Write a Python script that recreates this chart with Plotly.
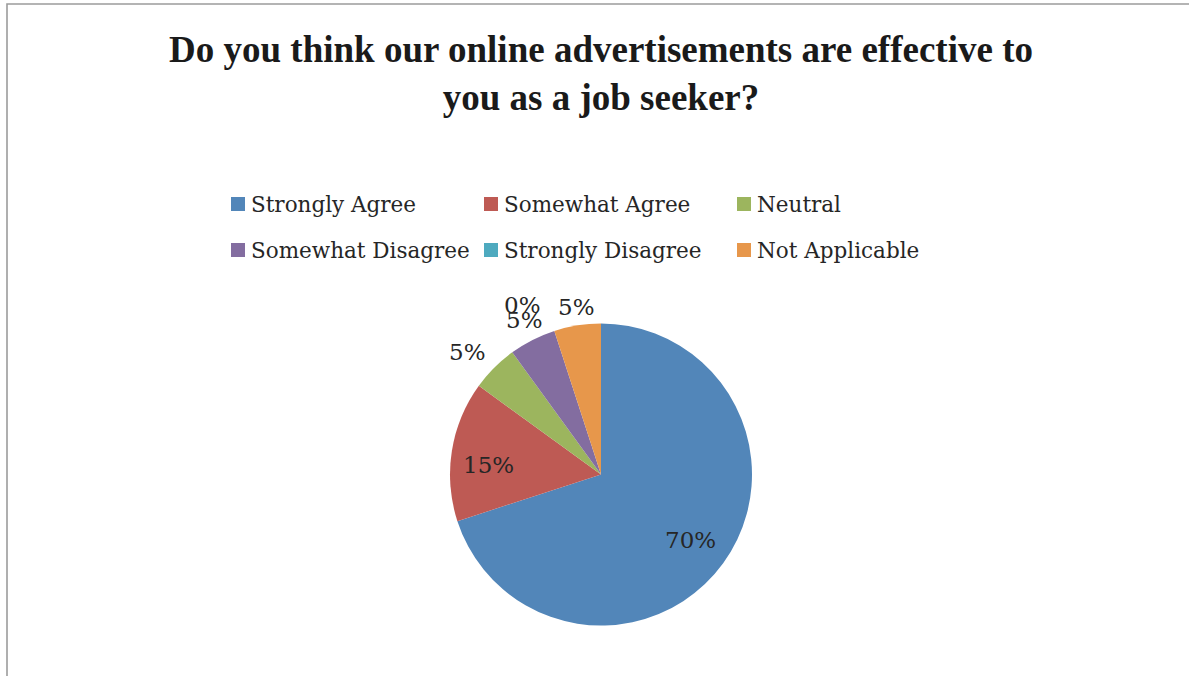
import math
import plotly.graph_objects as go

# Survey responses
categories = ["Strongly Agree", "Somewhat Agree", "Neutral",
              "Somewhat Disagree", "Strongly Disagree", "Not Applicable"]
shares = [70, 15, 5, 5, 0, 5]
colors = ["#5286B9", "#BE5A54", "#9CB55E", "#836DA0", "#4EAABF", "#E7974B"]
title_text = "Do you think our online advertisements are effective to<br>you as a job seeker?"

# Layout geometry (pixels)
W, H = 1189, 676
CX, CY, R = 601, 474.5, 151
# per-slice label placement: (radius as fraction of R, angular nudge in degrees)
label_place = [(0.735, 0), (0.75, -4), (1.2, -2.4), (1.14, 0.8), (1.235, -7), (1.12, 0.5)]
legend_cols = [231, 484, 737]
legend_rows = [204, 250]
legend_box = 14
legend_text_gap = 4
legend_ncols = 3

SERIF = "DejaVu Serif"


def px(x):
    return x / W


def py(y):
    return 1 - y / H


fig = go.Figure(go.Pie(
    labels=categories,
    values=shares,
    sort=False,
    direction="clockwise",
    rotation=0,
    marker=dict(colors=colors, line=dict(width=0)),
    textinfo="none",
    hoverinfo="label+percent",
    showlegend=False,
    domain=dict(x=[px(CX - R), px(CX + R)], y=[py(CY + R), py(CY - R)]),
))

annotations = []
shapes = []

# Percentage labels, placed at each slice's mid angle
total = sum(shares)
cum = 0.0
for v, (rf, nudge) in zip(shares, label_place):
    mid = (cum + v / 2) / total * 360 + nudge
    cum += v
    rad = math.radians(mid)
    x = CX + rf * R * math.sin(rad)
    y = CY - rf * R * math.cos(rad)
    annotations.append(dict(
        x=px(x), y=py(y), xref="paper", yref="paper",
        text=f"{round(100 * v / total)}%", showarrow=False,
        xanchor="center", yanchor="middle",
        font=dict(family=SERIF, size=23, color="#262626"),
    ))

# Legend: colour swatches with category names, three per row
for i, (name, col) in enumerate(zip(categories, colors)):
    x0 = legend_cols[i % legend_ncols]
    yc = legend_rows[i // legend_ncols]
    shapes.append(dict(
        type="rect", xref="paper", yref="paper",
        x0=px(x0), x1=px(x0 + legend_box),
        y0=py(yc + legend_box / 2), y1=py(yc - legend_box / 2),
        fillcolor=col, line=dict(width=0),
    ))
    annotations.append(dict(
        x=px(x0 + legend_box + legend_text_gap), y=py(yc), xref="paper", yref="paper",
        text=name, showarrow=False, xanchor="left", yanchor="middle",
        font=dict(family=SERIF, size=21.5, color="#262626"),
    ))

# Chart-area border (left and top edges)
shapes.append(dict(
    type="path", xref="paper", yref="paper",
    path=f"M {px(7)},{py(H + 5)} L {px(7)},{py(4)} L {px(W + 5)},{py(4)}",
    line=dict(color="#9C9C9C", width=1.6),
))

fig.update_layout(
    width=W, height=H,
    margin=dict(l=0, r=0, t=0, b=0),
    paper_bgcolor="white",
    plot_bgcolor="white",
    title=dict(
        text=f"<b>{title_text}</b>",
        x=px(601), xanchor="center",
        y=py(62), yanchor="top", yref="container",
        font=dict(family="Liberation Serif", size=37, color="#1a1a1a"),
    ),
    annotations=annotations,
    shapes=shapes,
)

fig.write_html("out.html")
